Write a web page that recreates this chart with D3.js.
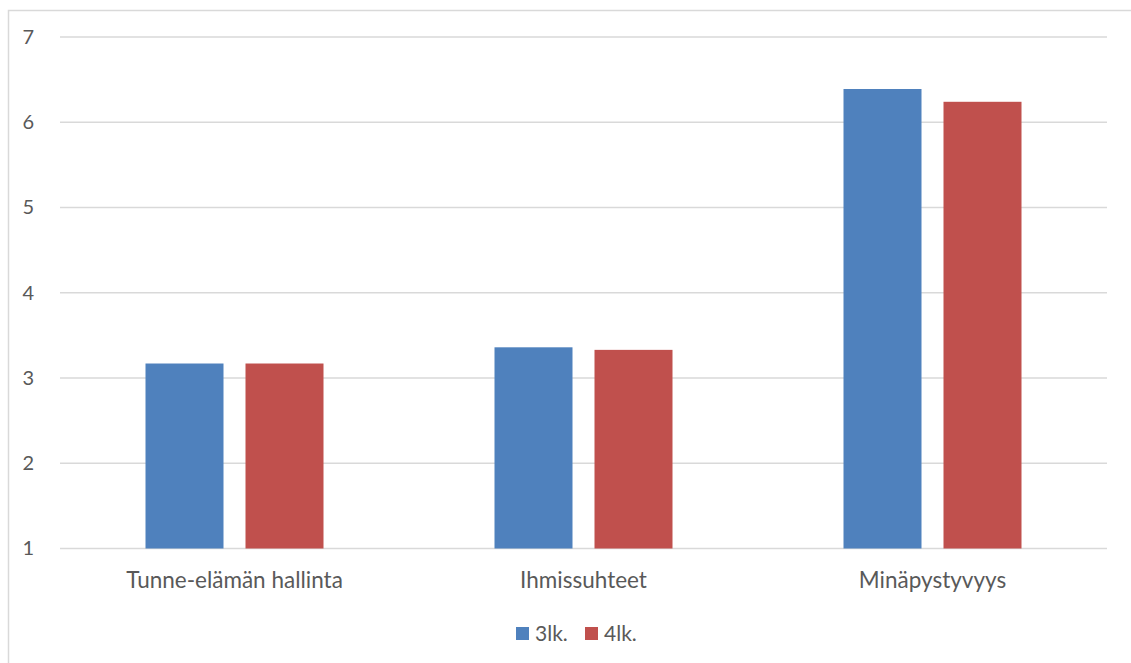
<!DOCTYPE html>
<html>
<head>
<meta charset="utf-8">
<script src="https://cdn.jsdelivr.net/npm/d3@7"></script>
<style>
  html, body { margin: 0; padding: 0; background: #fff; }
  svg { display: block; font-family: Lato, "Open Sans", sans-serif; }
</style>
</head>
<body>
<svg id="chart" width="1131" height="663"></svg>
<script>
// Categories and series
const categories = ["Tunne-elämän hallinta", "Ihmissuhteet", "Minäpystyvyys"];
const seriesNames = ["3lk.", "4lk."];
const values3lk = [3.17, 3.36, 6.39];
const values4lk = [3.17, 3.33, 6.24];
const yTicks = [1, 2, 3, 4, 5, 6, 7];
const colors = ["#4F81BD", "#C0504D"];

const seriesValues = [values3lk, values4lk];

const svg = d3.select("#chart");
const W = 1131, H = 663;

// Outer chart frame
svg.append("rect")
  .attr("x", 8.5).attr("y", 10.5)
  .attr("width", W + 10).attr("height", H + 10)
  .attr("fill", "#fff").attr("stroke", "#D9D9D9").attr("stroke-width", 1.5);

const plot = { left: 60, right: 1107, top: 37, bottom: 548.5 };

const y = d3.scaleLinear().domain([1, 7]).range([plot.bottom, plot.top]);
const x0 = d3.scaleBand().domain(categories).range([plot.left, plot.right]).padding(0);
const groupWidth = 178;
const x1 = d3.scaleBand().domain(seriesNames)
  .range([(x0.bandwidth() - groupWidth) / 2, (x0.bandwidth() + groupWidth) / 2])
  .paddingInner(0.22).paddingOuter(0);
const color = d3.scaleOrdinal().domain(seriesNames).range(colors);

// Gridlines
svg.append("g")
  .selectAll("line").data(yTicks).join("line")
  .attr("x1", plot.left).attr("x2", plot.right)
  .attr("y1", d => y(d)).attr("y2", d => y(d))
  .attr("stroke", "#D9D9D9").attr("stroke-width", 1.5);

// Y axis labels
const yAxis = d3.axisLeft(y).tickValues(yTicks).tickSize(0).tickPadding(0).tickFormat(d3.format("d"));
const gy = svg.append("g").attr("transform", `translate(34,0)`).call(yAxis);
gy.select(".domain").remove();
gy.selectAll("text").attr("font-size", 20).attr("fill", "#595959").attr("font-family", "Lato, sans-serif");

// Bars
const rows = categories.map((c, i) => ({ cat: c, vals: seriesNames.map((s, j) => ({ s, v: seriesValues[j][i] })) }));
const groups = svg.append("g").selectAll("g").data(rows).join("g")
  .attr("transform", d => `translate(${x0(d.cat)},0)`);
groups.selectAll("rect").data(d => d.vals).join("rect")
  .attr("x", d => x1(d.s))
  .attr("width", x1.bandwidth())
  .attr("y", d => y(d.v))
  .attr("height", d => y(1) - y(d.v))
  .attr("fill", d => color(d.s));

// Category axis labels
const xAxis = d3.axisBottom(x0).tickSize(0).tickPadding(0);
const gx = svg.append("g").attr("transform", `translate(0,${plot.bottom + 39})`).call(xAxis);
gx.select(".domain").remove();
gx.selectAll("text").attr("font-size", 22.5).attr("fill", "#595959").attr("font-family", "Lato, sans-serif").attr("dy", null);

// Legend
const legendItems = [{ s: "3lk.", x: 516 }, { s: "4lk.", x: 585 }];
const lg = svg.append("g").selectAll("g").data(legendItems).join("g")
  .attr("transform", d => `translate(${d.x},627)`);
lg.append("rect").attr("width", 13).attr("height", 13).attr("fill", d => color(d.s));
lg.append("text").attr("x", 19).attr("y", 14).attr("font-size", 21).attr("fill", "#595959")
  .text(d => d.s);
</script>
</body>
</html>
